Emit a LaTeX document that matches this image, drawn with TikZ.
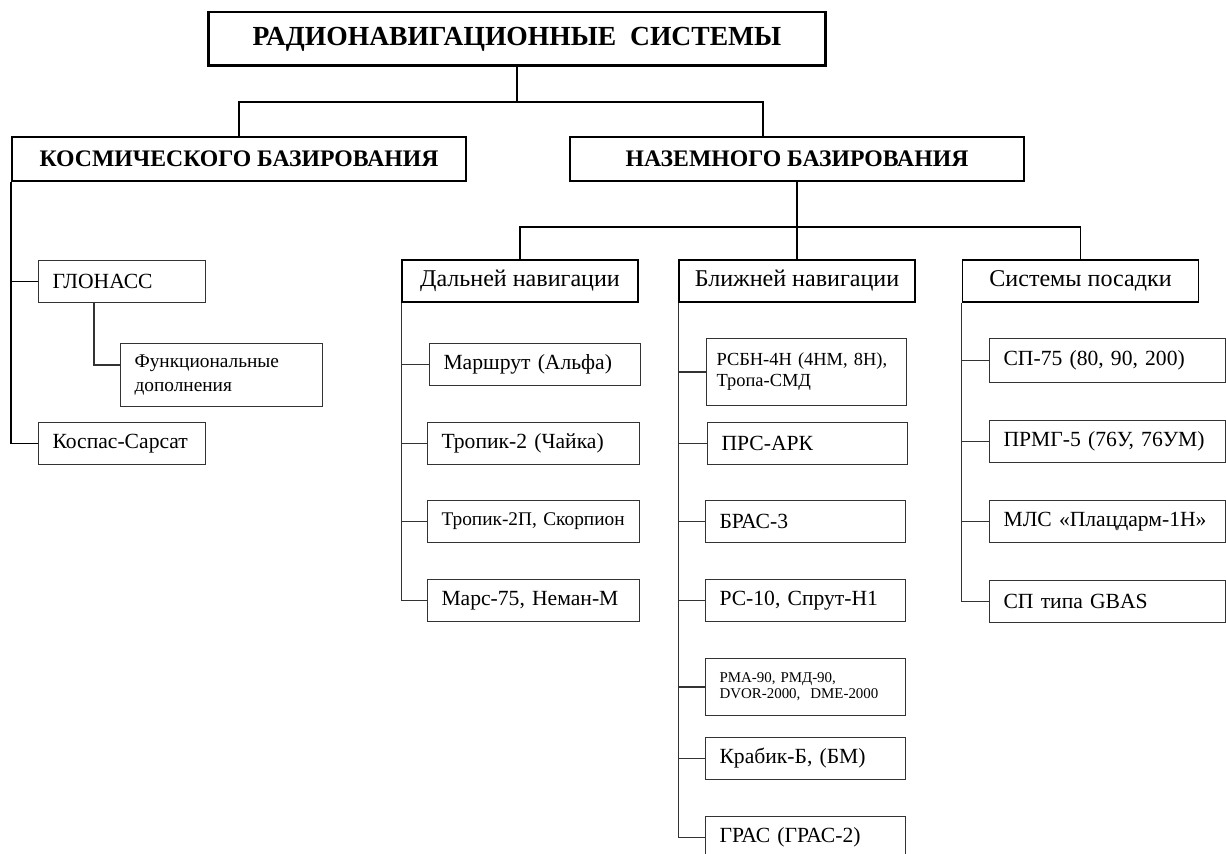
\documentclass[tikz,border=0pt]{standalone}
\usepackage{fontspec}
\setmainfont{Liberation Serif}

\begin{document}
\begin{tikzpicture} [
  x = .02cm,
  y = -.02cm,
  every node/.style = {inner sep = 0pt},
  head/.style = {draw, line width = 1.7pt, font = \fontsize{15.7}{18}\selectfont\bfseries, minimum width = 12.36cm, minimum height = 1.08cm},
  base/.style = {draw, line width = 1.1pt, font = \fontsize{13.5}{15}\selectfont\bfseries, minimum width = 9.07cm, minimum height = .88cm},
  group/.style = {draw, line width = .7pt, font = \fontsize{13.7}{15}\selectfont, minimum width = 4.72cm, minimum height = .84cm},
  item/.style = {draw = black!80, line width = .6pt, anchor = north west, align = left, inner xsep = .28cm, font = \fontsize{12.3}{14}\selectfont, minimum height = .84cm},
  spacecol/.style = {item, text width = 2.78cm},
  farcol/.style = {item, text width = 3.68cm},
  nearcol/.style = {item, text width = 3.44cm},
  landcol/.style = {item, text width = 4.16cm},
  smalltext/.style = {font = \fontsize{11}{13.5}\selectfont},
  tinytext/.style = {font = \fontsize{8.5}{9}\selectfont},
  bus/.style = {line width = 1.1pt},
  link/.style = {draw = black!80, line width = .6pt},
]
\useasboundingbox (0, 0) rectangle (1226, 854);
\clip (0, 0) rectangle (1226, 854);

\node [head] (title) at (517, 39) {РАДИОНАВИГАЦИОННЫЕ~ СИСТЕМЫ};
\node [base] (space) at (239, 159) {КОСМИЧЕСКОГО БАЗИРОВАНИЯ};
\node [base] (ground) at (797, 159) {НАЗЕМНОГО БАЗИРОВАНИЯ};

\node [group] (far) at (520, 281) {Дальней навигации};
\node [group] (near) at (797, 281) {Ближней навигации};
\node [group] (landing) at (1080.5, 281) {Системы посадки};

\node [spacecol] (glonass) at (38, 260) {ГЛОНАСС};
\node [item, smalltext, text width = 3.48cm, minimum height = 1.26cm] (func) at (120, 343) {Функциональные\\дополнения};
\node [spacecol] (kospas) at (38, 422) {Коспас-Сарсат};

\node [farcol, text width = 3.66cm] (f1) at (429, 343) {Маршрут (Альфа)};
\node [farcol] (f2) at (427, 422) {Тропик-2 (Чайка)};
\node [farcol, smalltext] (f3) at (427, 500) {Тропик-2П, Скорпион};
\node [farcol] (f4) at (427, 579) {Марс-75, Неман-М};

\node [nearcol, font = \fontsize{10.5}{12}\selectfont, inner xsep = .2cm, text width = 3.6cm, minimum height = 1.34cm] (n1) at (706, 338) {РСБН-4Н (4НМ, 8Н),\\Тропа-СМД};
\node [nearcol] (n2) at (707, 422) {ПРС-АРК};
\node [nearcol] (n3) at (705, 500) {БРАС-3};
\node [nearcol] (n4) at (705, 579) {РС-10, Спрут-Н1};
\node [nearcol, tinytext, minimum height = 1.14cm] (n5) at (705, 658) {РМА-90, РМД-90,\\DVOR-2000,~ DME-2000};
\node [nearcol] (n6) at (705, 737) {Крабик-Б, (БМ)};
\node [nearcol] (n7) at (705, 816) {ГРАС (ГРАС-2)};

\node [landcol, minimum height = .88cm] (l1) at (989, 338) {СП-75 (80, 90, 200)};
\node [landcol] (l2) at (989, 420) {\mbox{ПРМГ-5 (76У, 76УМ)}};
\node [landcol] (l3) at (989, 500) {\mbox{МЛС «Плацдарм-1Н»}};
\node [landcol] (l4) at (989, 580) {СП типа GBAS};

\coordinate (topbus) at (517, 102);
\coordinate (groundbus) at (797, 227);
\draw [bus] (title.south) -- (topbus) -| (space.north);
\draw [bus] (topbus) -| ([xshift = -.68cm] ground.north);
\draw [bus] (ground.south) -- (groundbus) -| (far.north);
\draw [bus] (groundbus) -| (landing.north);
\draw [bus] (groundbus) -- (near.north);

% space segment
\draw [bus] (space.south west) |- (kospas.west);
\draw [bus] (space.south west |- glonass.west) -- (glonass.west);
\draw [link] ([xshift = 1.12cm] glonass.south west) |- ([yshift = .2cm] func.west);

% ground segment columns
\draw [link] (far.south west) |- (f4.west);
\foreach \n in {f1, f2, f3}
  \draw [link] (far.south west |- \n.west) -- (\n.west);
\draw [link] (near.south west) |- (n7.west);
\foreach \n in {n1, n2, n3, n4, n5, n6}
  \draw [link] (near.south west |- \n.west) -- (\n.west);
\draw [link] (landing.south west) |- (l4.west);
\foreach \n in {l1, l2, l3}
  \draw [link] (landing.south west |- \n.west) -- (\n.west);
\end{tikzpicture}
\end{document}
